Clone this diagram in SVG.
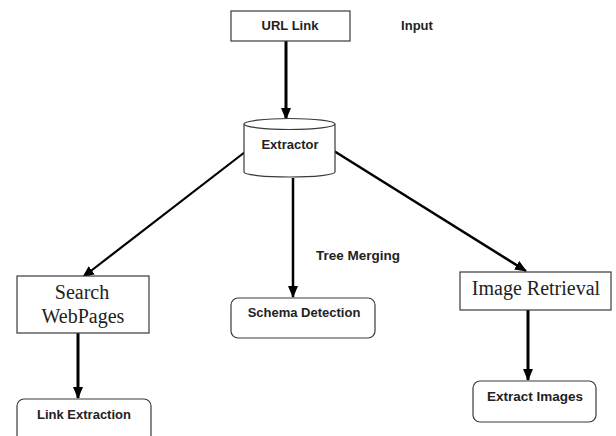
<svg xmlns="http://www.w3.org/2000/svg" width="616" height="436" viewBox="0 0 616 436">
<defs>
<marker id="ah" markerUnits="userSpaceOnUse" markerWidth="12" markerHeight="12" viewBox="0 0 12 12" refX="11" refY="6" orient="auto">
<path d="M0,1 L12,6 L0,11 Z" fill="#000"/>
</marker>
</defs>
<style>
.box{fill:#fff;stroke:#3a3a3a;stroke-width:1.2}
.sans{font-family:"Liberation Sans",Arial,sans-serif;font-weight:bold;font-size:13px;fill:#222;text-anchor:middle}
.serif{font-family:"Liberation Serif","Times New Roman",serif;font-size:20px;fill:#222;text-anchor:middle}
.conn{stroke:#000;fill:none;marker-end:url(#ah)}
</style>
<rect width="616" height="436" fill="#fff"/>
<g id="connectors">
<line class="conn" x1="286" y1="41" x2="286" y2="119" stroke-width="3"/>
<line class="conn" x1="245" y1="152" x2="83" y2="277" stroke-width="2.2"/>
<line class="conn" x1="293" y1="178" x2="293" y2="297" stroke-width="2.5"/>
<line class="conn" x1="334" y1="151" x2="526" y2="271" stroke-width="2.5"/>
<line class="conn" x1="78" y1="333" x2="78" y2="398" stroke-width="3"/>
<line class="conn" x1="528" y1="310" x2="528" y2="380" stroke-width="3"/>
</g>
<g id="url-link">
<rect class="box" x="231" y="11" width="119" height="30"/>
<text class="sans" x="290" y="30">URL Link</text>
</g>
<g id="input-label">
<text class="sans" x="417" y="30">Input</text>
</g>
<g id="extractor">
<path class="box" d="M244,124 L244,172 A45.5,5 0 0 0 335,172 L335,124"/>
<ellipse class="box" cx="289.5" cy="124" rx="45.5" ry="5.5"/>
<text class="sans" x="290" y="149">Extractor</text>
</g>
<g id="search-webpages">
<rect class="box" x="17" y="276" width="132" height="57"/>
<text class="serif" x="82" y="299">Search</text>
<text class="serif" x="83" y="323">WebPages</text>
</g>
<g id="tree-merging-label">
<text class="sans" x="358" y="260" style="font-size:13.5px">Tree Merging</text>
</g>
<g id="schema-detection">
<rect class="box" x="231" y="298" width="144" height="40" rx="7"/>
<text class="sans" x="304" y="317">Schema Detection</text>
</g>
<g id="image-retrieval">
<rect class="box" x="460" y="272" width="151" height="38"/>
<text class="serif" x="536" y="295">Image Retrieval</text>
</g>
<g id="link-extraction">
<rect class="box" x="17" y="399" width="134" height="48" rx="7"/>
<text class="sans" x="84" y="419">Link Extraction</text>
</g>
<g id="extract-images">
<rect class="box" x="473" y="381" width="123" height="41" rx="7"/>
<text class="sans" x="535" y="401" style="font-size:13.5px">Extract Images</text>
</g>
</svg>
